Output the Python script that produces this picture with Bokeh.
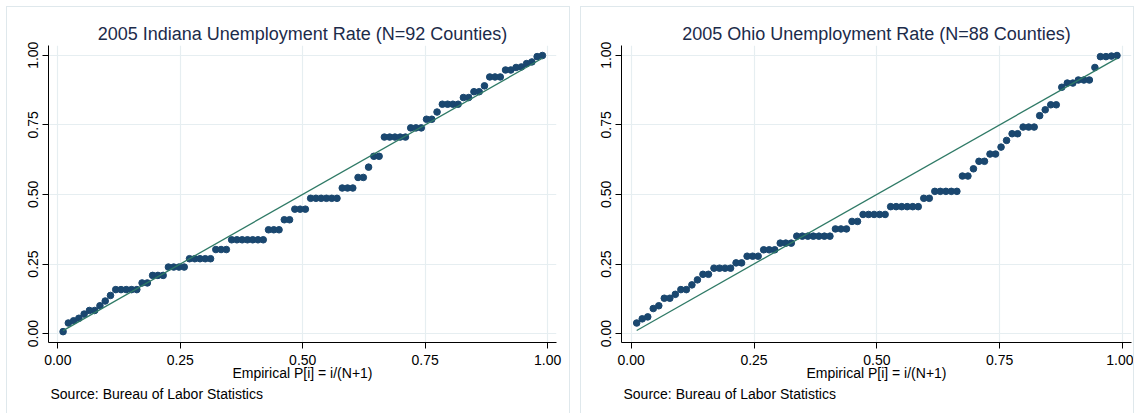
import numpy as np
from bokeh.plotting import figure
from bokeh.models import FixedTicker, NumeralTickFormatter, Title, Spacer, Range1d
from bokeh.layouts import row, column
from bokeh.embed import file_html
from bokeh.resources import INLINE

# ---------------- data ----------------
ticks = [0.0, 0.25, 0.5, 0.75, 1.0]

indiana_title = "2005 Indiana Unemployment Rate (N=92 Counties)"
ohio_title = "2005 Ohio Unemployment Rate (N=88 Counties)"
x_label = "Empirical P[i] = i/(N+1)"
source_note = "Source: Bureau of Labor Statistics"

# Normal-probability values (sorted), one per county
indiana_p = [
    0.007, 0.038, 0.046, 0.055, 0.070, 0.083, 0.083, 0.100, 0.117, 0.137,
    0.158, 0.158, 0.158, 0.158, 0.158,
    0.182, 0.182,
    0.209, 0.209, 0.209,
    0.239, 0.239, 0.239, 0.239,
    0.269, 0.269, 0.269, 0.269, 0.269,
    0.302, 0.302, 0.302,
    0.337, 0.337, 0.337, 0.337, 0.337, 0.337, 0.337,
    0.373, 0.373, 0.373,
    0.409, 0.409,
    0.447, 0.447, 0.447,
    0.486, 0.486, 0.486, 0.486, 0.486, 0.486,
    0.523, 0.523, 0.523,
    0.561, 0.561,
    0.598,
    0.637, 0.637,
    0.706, 0.706, 0.706, 0.706, 0.706,
    0.739, 0.739, 0.739,
    0.770, 0.770,
    0.796,
    0.824, 0.824, 0.824, 0.824,
    0.848, 0.848,
    0.869, 0.869,
    0.890,
    0.922, 0.922, 0.922,
    0.947, 0.947,
    0.956, 0.958,
    0.970, 0.976,
    0.995, 0.999,
]

ohio_p = [
    0.038, 0.053, 0.060, 0.090, 0.100,
    0.127, 0.127,
    0.141,
    0.158, 0.158,
    0.175,
    0.193,
    0.213, 0.213,
    0.235, 0.235, 0.235, 0.235,
    0.254, 0.254,
    0.278, 0.278, 0.278,
    0.301, 0.301, 0.301,
    0.325, 0.325, 0.325,
    0.350, 0.350, 0.350, 0.350, 0.350, 0.350, 0.350,
    0.376, 0.376, 0.376,
    0.403, 0.403,
    0.428, 0.428, 0.428, 0.428, 0.428,
    0.456, 0.456, 0.456, 0.456, 0.456, 0.456,
    0.486, 0.486,
    0.511, 0.511, 0.511, 0.511, 0.511,
    0.566, 0.566,
    0.592,
    0.619, 0.619,
    0.645, 0.645,
    0.670,
    0.694,
    0.718, 0.718,
    0.742, 0.742, 0.742,
    0.783,
    0.804,
    0.822, 0.822,
    0.885,
    0.900, 0.900,
    0.911, 0.911, 0.911,
    0.956,
    0.995, 0.995, 0.997, 0.999,
]

# ---------------- styling ----------------
DOT = "#1a476f"
LINE = "#2f7a66"
GRID = "#e6eef1"
TITLE_C = "#1c2b4a"
FONT = "Liberation Sans"
BORDER = "#dfe8ec"


def make_fig(title, probs, width, mbl, mbr, xr):
    n = len(probs)
    emp = [(i + 1) / (n + 1) for i in range(n)]
    p = figure(width=width, height=407, output_backend="svg", toolbar_location=None,
               x_range=Range1d(*xr), y_range=Range1d(-0.032, 1.035),
               min_border_left=mbl, min_border_right=mbr,
               min_border_top=38, min_border_bottom=72, title=title)
    b = "1px solid " + BORDER
    p.styles = {"border-top": b, "border-left": b, "border-right": b}
    p.background_fill_color = "white"
    p.border_fill_color = "white"
    p.outline_line_color = None

    p.title.text_font = FONT
    p.title.text_font_size = "18px"
    p.title.text_font_style = "normal"
    p.title.text_color = TITLE_C
    p.title.align = "center"
    p.title.standoff = 4

    for ax in (p.xaxis[0], p.yaxis[0]):
        ax.ticker = FixedTicker(ticks=ticks)
        ax.formatter = NumeralTickFormatter(format="0.00")
        ax.axis_line_color = "black"
        ax.axis_line_width = 1
        ax.major_tick_line_color = "black"
        ax.major_tick_out = 6
        ax.major_tick_in = 0
        ax.minor_tick_line_color = None
        ax.major_label_text_font = FONT
        ax.major_label_text_font_size = "14px"
        ax.major_label_text_color = "black"
        ax.major_label_standoff = 4
    p.yaxis.major_label_orientation = "vertical"
    p.xaxis.major_label_standoff = 6

    p.xaxis.axis_label = x_label
    p.xaxis.axis_label_text_font = FONT
    p.xaxis.axis_label_text_font_size = "14px"
    p.xaxis.axis_label_text_font_style = "normal"
    p.xaxis.axis_label_text_color = "black"
    p.xaxis.axis_label_standoff = -3

    p.xgrid.grid_line_color = GRID
    p.ygrid.grid_line_color = GRID
    p.xgrid.grid_line_width = 1.2
    p.ygrid.grid_line_width = 1.2

    p.scatter(emp, probs, size=6.6, fill_color=DOT, line_color=DOT)
    p.line([emp[0], emp[-1]], [emp[0], emp[-1]], line_color=LINE, line_width=1.3)

    p.add_layout(Title(text=source_note, align="left", text_font=FONT,
                       text_font_size="14px", text_font_style="normal",
                       text_color="black", offset=2, standoff=0), "below")
    return p


p1 = make_fig(indiana_title, indiana_p, 564, 41, 15, (-0.019, 1.018))
p2 = make_fig(ohio_title, ohio_p, 554, 40, 4, (-0.0197, 1.0183))

layout = column(Spacer(height=6),
                row(Spacer(width=6), p1, Spacer(width=10), p2))

open("out.html", "w").write(file_html(layout, INLINE))
